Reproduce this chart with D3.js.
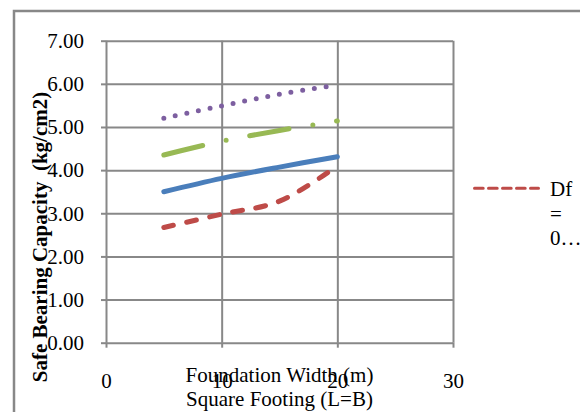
<!DOCTYPE html>
<html>
<head>
<meta charset="utf-8">
<script src="https://cdn.jsdelivr.net/npm/d3@7"></script>
<style>
  body { margin: 0; background: #fff; }
  svg text { font-family: "Liberation Serif", "Times New Roman", serif; fill: #000; }
</style>
</head>
<body>
<div id="container"></div>
<script>
/* CONSTANTS AND GLOBALS */
const width = 580,
  height = 412,
  margin = { top: 40.7, bottom: 412 - 342.7, left: 106, right: 580 - 453 };

// foundation widths (m)
const widths = [5, 10, 15, 20];

// safe bearing capacity (kg/cm2) per series
const blueVals = [3.50, 3.81, 4.07, 4.31];
const redVals = [2.67, 2.98, 3.28, 4.10];
const greenVals = [4.35, 4.67, 4.92, 5.14];
const purpleVals = [5.20, 5.49, 5.76, 5.97];

const xTicks = [0, 10, 20, 30];
const yTicks = [0, 1, 2, 3, 4, 5, 6, 7];

// legend text as it shows (cut off by the chart)
const legendLines = ["Df", "=", "0\u2026"];

const gridColor = "#888888";

/* SCALES */
const xScale = d3.scaleLinear()
  .domain([0, 30])
  .range([margin.left, width - margin.right]);

const yScale = d3.scaleLinear()
  .domain([0, 7])
  .range([height - margin.bottom, margin.top]);

const svg = d3.select("#container")
  .append("svg")
  .attr("width", width)
  .attr("height", height);

// outer chart frame (runs off the right and bottom)
svg.append("rect")
  .attr("x", 14)
  .attr("y", 11)
  .attr("width", 700)
  .attr("height", 500)
  .attr("fill", "none")
  .attr("stroke", gridColor)
  .attr("stroke-width", 2.5);

/* GRIDLINES */
const plotW = xScale.range()[1] - xScale.range()[0];
const plotH = yScale.range()[0] - yScale.range()[1];

svg.append("g")
  .attr("class", "yGrid")
  .attr("transform", `translate(${margin.left}, 0)`)
  .call(d3.axisLeft(yScale).tickValues(yTicks).tickSize(-plotW).tickFormat(""))
  .call(g => g.select(".domain").remove());

svg.append("g")
  .attr("class", "xGrid")
  .attr("transform", `translate(0, ${height - margin.bottom})`)
  .call(d3.axisBottom(xScale).tickValues(xTicks).tickSize(-plotH).tickFormat(""))
  .call(g => g.select(".domain").remove());

svg.selectAll(".yGrid line, .xGrid line")
  .attr("stroke", gridColor)
  .attr("stroke-width", 2);

/* AXES */
const yAxis = d3.axisLeft(yScale)
  .tickValues(yTicks)
  .tickSize(5)
  .tickPadding(17)
  .tickFormat(d3.format(".2f"));

const xAxis = d3.axisBottom(xScale)
  .tickValues(xTicks)
  .tickSize(5)
  .tickPadding(25)
  .tickFormat(d3.format("d"));

svg.append("g")
  .attr("class", "yAxis")
  .attr("transform", `translate(${margin.left}, 0)`)
  .call(yAxis)
  .call(g => g.select(".domain").remove());

svg.append("g")
  .attr("class", "xAxis")
  .attr("transform", `translate(0, ${height - margin.bottom})`)
  .call(xAxis)
  .call(g => g.select(".domain").remove());

svg.selectAll(".xAxis line, .yAxis line")
  .attr("stroke", gridColor)
  .attr("stroke-width", 2);

svg.selectAll(".xAxis text, .yAxis text")
  .attr("font-family", "Liberation Serif, serif")
  .attr("font-size", 21)
  .attr("fill", "#000");

/* SERIES */
const line = d3.line()
  .x(d => xScale(d[0]))
  .y(d => yScale(d[1]))
  .curve(d3.curveCatmullRom);

const series = [
  { vals: blueVals, color: "#4A7EBB", dash: null },
  { vals: redVals, color: "#BE4B48", dash: "10,13.5" },
  { vals: greenVals, color: "#98B954", dash: "40,24,0,24" },
  { vals: purpleVals, color: "#7D5FA0", dash: "0,11.8" }
];

svg.append("g")
  .selectAll("path")
  .data(series)
  .join("path")
  .attr("d", s => line(widths.map((w, i) => [w, s.vals[i]])))
  .attr("fill", "none")
  .attr("stroke", s => s.color)
  .attr("stroke-width", 5)
  .attr("stroke-linecap", "round")
  .attr("stroke-linejoin", "round")
  .attr("stroke-dasharray", s => s.dash);

/* LEGEND */
const legend = svg.append("g").attr("class", "legend");

legend.append("line")
  .attr("x1", 474.5)
  .attr("x2", 538.5)
  .attr("y1", 188.3)
  .attr("y2", 188.3)
  .attr("stroke", "#BE4B48")
  .attr("stroke-width", 3)
  .attr("stroke-linecap", "round")
  .attr("stroke-dasharray", "8.7,5.3");

legend.selectAll("text")
  .data(legendLines)
  .join("text")
  .attr("x", 550)
  .attr("y", (d, i) => 196 + i * 24.5)
  .attr("font-size", 21)
  .text(d => d);

/* AXIS TITLES */
svg.append("text")
  .attr("x", (xScale.range()[0] + xScale.range()[1]) / 2)
  .attr("y", 382)
  .attr("text-anchor", "middle")
  .attr("font-size", 21)
  .text("Foundation Width (m)");

svg.append("text")
  .attr("x", (xScale.range()[0] + xScale.range()[1]) / 2)
  .attr("y", 406)
  .attr("text-anchor", "middle")
  .attr("font-size", 21)
  .text("Square Footing (L=B)");

svg.append("text")
  .attr("transform", "translate(46.5, 237) rotate(-90)")
  .attr("text-anchor", "middle")
  .attr("font-size", 21)
  .attr("font-weight", "bold")
  .style("white-space", "pre")
  .text("Safe Bearing Capacity  (kg/cm2)");
</script>
</body>
</html>
